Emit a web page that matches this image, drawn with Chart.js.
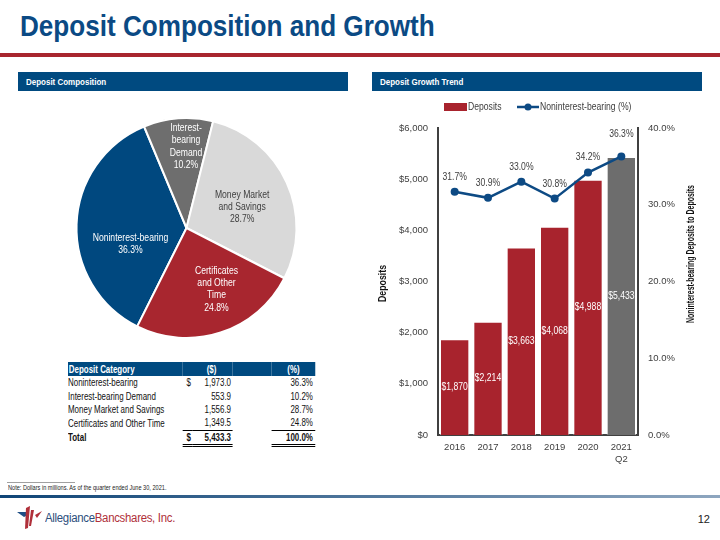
<!DOCTYPE html>
<html>
<head>
<meta charset="utf-8">
<script src="https://cdn.jsdelivr.net/npm/chart.js@4.4.1/dist/chart.umd.min.js"></script>
<style>
  body { margin: 0; width: 720px; height: 540px; position: relative; overflow: hidden; background: #fff;
         font-family: "Liberation Sans", Arial, sans-serif; }
  .abs { position: absolute; }
  .narrow { display: inline-block; transform: scaleX(0.84); transform-origin: left center; white-space: nowrap; }
  #title { left: 20px; top: 12px; font: bold 29px/29px "Liberation Sans", Arial, sans-serif; color: #0b4a84;
           transform: scaleX(0.9); transform-origin: left top; white-space: nowrap; }
  #rule { left: 0; top: 53px; width: 720px; height: 4px; background: #a8262e; }
  .hdr { top: 72px; width: 330px; height: 19px; background: #004a80; color: #fff; font-weight: bold;
         font-size: 9.5px; line-height: 19px; box-sizing: border-box; padding-left: 8px; }
  #depTable { left: 68px; top: 362px; border-collapse: collapse; font-size: 10.2px; color: #111; table-layout: fixed;
              transform: scaleX(0.78); transform-origin: left top; }
  #depTable td { padding: 0; height: 13.4px; line-height: 13px; white-space: nowrap; }
  #depTable tr.head td { background: #004a80; color: #fff; font-weight: bold; height: 14px; }
  #depTable tr.total td { font-weight: bold; }
  #noteLine { left: 7px; top: 482px; width: 68px; height: 1px; background: #a0a0a0; }
  #note { left: 8px; top: 484px; font-size: 7px; color: #222; white-space: nowrap; transform: scaleX(0.8); transform-origin: left top; }
  #footBar { left: 0; top: 495px; width: 720px; height: 3px; background: linear-gradient(to right, #0f4577, #8ea6bf); }
  #logoText { left: 45px; top: 511px; font: 12px "Liberation Sans", Arial, sans-serif; white-space: nowrap;
              transform: scaleX(0.95); transform-origin: left top; letter-spacing: -0.3px; }
  #pageNo { left: 690px; top: 513px; width: 20px; text-align: right; font-size: 11px; color: #222; }
</style>
</head>
<body>
<div id="title" class="abs">Deposit Composition and Growth</div>
<div id="rule" class="abs"></div>
<div class="hdr abs" style="left:18px"><span class="narrow">Deposit Composition</span></div>
<div class="hdr abs" style="left:372px"><span class="narrow">Deposit Growth Trend</span></div>

<canvas id="pieChart" class="abs" width="330" height="250" style="left:20px;top:100px"></canvas>
<table id="depTable" class="abs"></table>
<canvas id="barChart" class="abs" width="340" height="380" style="left:370px;top:92px"></canvas>

<div id="noteLine" class="abs"></div>
<div id="note" class="abs">Note: Dollars in millions. As of the quarter ended June 30, 2021.</div>
<div id="footBar" class="abs"></div>
<svg class="abs" style="left:17px;top:506px" width="26" height="24" viewBox="0 0 26 24">
  <polygon points="0,6 9,6 11,9 7,11" fill="#1f4e85"/>
  <polygon points="9,2 13,0 11,22 8,23" fill="#b0303a"/>
  <polygon points="14,4 17,4 14,20 12,20" fill="#b0303a"/>
  <polygon points="18,9 25,5 20,12" fill="#b0303a"/>
</svg>
<div id="logoText" class="abs"><span style="color:#2c4e7c">Allegiance</span><span style="color:#b0303a">Bancshares, Inc.</span></div>
<div id="pageNo" class="abs">12</div>

<script>
// данные: состав депозитов
const depCategories = ['Noninterest-bearing', 'Interest-bearing Demand', 'Money Market and Savings', 'Certificates and Other Time'];
const depAmounts = [1973.0, 553.9, 1556.9, 1349.5];
const depPercents = [36.3, 10.2, 28.7, 24.8];
const depTotal = 5433.3;
const pieLabelLines = [['Noninterest-bearing'], ['Interest-', 'bearing', 'Demand'], ['Money Market', 'and Savings'], ['Certificates', 'and Other', 'Time']];

// данные: рост депозитов
const years = ['2016', '2017', '2018', '2019', '2020', ['2021', 'Q2']];
const deposits = [1870, 2214, 3663, 4068, 4988, 5433];
const nonintPct = [31.7, 30.9, 33.0, 30.8, 34.2, 36.3];

const FONT = '"Liberation Sans", Arial, sans-serif';
const BLUE = '#0d4a84';
const RED = '#a8232d';
const GREY = '#6d6d6d';
const TXT = '#404040';

Chart.defaults.font.family = FONT;
Chart.defaults.color = TXT;

// узкий текст (в слайде Arial Narrow)
function narrowText(ctx, text, x, y, sx = 0.82) {
  ctx.save();
  ctx.translate(x, y);
  ctx.scale(sx, 1);
  ctx.fillText(text, 0, 0);
  ctx.restore();
}

// таблица
const table = document.getElementById('depTable');
const fmt1 = v => v.toLocaleString('en-US', { minimumFractionDigits: 1, maximumFractionDigits: 1 });
let html = '<colgroup><col style="width:147px"><col style="width:13px"><col style="width:51px"><col style="width:50px"><col style="width:56px"></colgroup>';
html += '<tr class="head"><td style="padding-left:1px">Deposit Category</td><td colspan="2" style="text-align:center;padding-left:10px">($)</td><td></td><td style="text-align:center">(%)</td></tr>';
depCategories.forEach((c, i) => {
  html += `<tr><td>${c}</td><td style="padding-left:5px">${i === 0 ? '$' : ''}</td><td style="text-align:right;padding-right:2px">${fmt1(depAmounts[i])}</td><td></td><td style="text-align:right;padding-right:3px">${depPercents[i].toFixed(1)}%</td></tr>`;
});
const tl = 'border-top:1px solid #000;border-bottom:3px double #000;';
html += `<tr class="total"><td>Total</td><td style="${tl}padding-left:5px">$</td><td style="${tl}text-align:right;padding-right:2px">${fmt1(depTotal)}</td><td></td><td style="${tl}text-align:right;padding-right:3px">100.0%</td></tr>`;
table.innerHTML = html;

// подписи внутри секторов
const pieLabelPlugin = {
  id: 'pieLabels',
  afterDatasetsDraw(chart) {
    const { ctx } = chart;
    const spots = [[0.53, -18], [0.74, 4], [0.54, 4], [0.62, -8]];
    const colors = ['#fff', '#fff', '#404040', '#fff'];
    chart.getDatasetMeta(0).data.forEach((arc, i) => {
      const [frac, shift] = spots[i];
      const mid = (arc.startAngle + arc.endAngle) / 2 + shift * Math.PI / 180;
      const x = arc.x + Math.cos(mid) * arc.outerRadius * frac;
      const y = arc.y + Math.sin(mid) * arc.outerRadius * frac;
      const lines = [...pieLabelLines[i], depPercents[i].toFixed(1) + '%'];
      const lh = 12.3;
      ctx.save();
      ctx.font = '10.5px ' + FONT;
      ctx.fillStyle = colors[i];
      ctx.textAlign = 'center';
      ctx.textBaseline = 'middle';
      lines.forEach((t, k) => narrowText(ctx, t, x, y + (k - (lines.length - 1) / 2) * lh));
      ctx.restore();
    });
  }
};

new Chart(document.getElementById('pieChart'), {
  type: 'pie',
  data: {
    labels: depCategories,
    datasets: [{
      data: depAmounts,
      backgroundColor: ['#00487f', '#6e6e6e', '#d9d9d9', '#a8262f'],
      borderColor: '#fff',
      borderWidth: 2
    }]
  },
  options: {
    responsive: false,
    animation: false,
    devicePixelRatio: 1,
    rotation: 206.6,
    layout: { padding: { left: 55.5, right: 52.5, top: 17, bottom: 11 } },
    plugins: { legend: { display: false }, tooltip: { enabled: false } }
  },
  plugins: [pieLabelPlugin]
});

// подписи, легенда и заголовки осей для графика роста
const barExtras = {
  id: 'barExtras',
  afterDatasetsDraw(chart) {
    const { ctx } = chart;
    ctx.save();
    ctx.font = '10.5px ' + FONT;
    ctx.textAlign = 'center';
    ctx.textBaseline = 'middle';
    // значения на столбцах
    ctx.fillStyle = '#fff';
    chart.getDatasetMeta(1).data.forEach((bar, i) => {
      narrowText(ctx, '$' + deposits[i].toLocaleString('en-US'), bar.x, (bar.y + bar.base) / 2);
    });
    // значения на линии
    ctx.fillStyle = TXT;
    const pts = chart.getDatasetMeta(0).data;
    pts.forEach((p, i) => {
      const lift = i === pts.length - 1 ? 22 : 15;
      narrowText(ctx, nonintPct[i].toFixed(1) + '%', p.x, p.y - lift);
    });
    ctx.restore();
  },
  afterDraw(chart) {
    const { ctx } = chart;
    ctx.save();
    // легенда
    ctx.fillStyle = RED;
    ctx.fillRect(74, 11, 23, 8);
    ctx.strokeStyle = BLUE;
    ctx.lineWidth = 2.5;
    ctx.beginPath(); ctx.moveTo(147, 15); ctx.lineTo(169, 15); ctx.stroke();
    ctx.fillStyle = BLUE;
    ctx.beginPath(); ctx.arc(158, 15, 3.5, 0, Math.PI * 2); ctx.fill();
    ctx.fillStyle = TXT;
    ctx.font = '10.5px ' + FONT;
    ctx.textBaseline = 'middle';
    ctx.textAlign = 'left';
    narrowText(ctx, 'Deposits', 98, 15);
    narrowText(ctx, 'Noninterest-bearing (%)', 170, 15);
    // заголовки осей
    const vTitle = (text, x, y, w) => {
      ctx.save();
      ctx.translate(x, y);
      ctx.rotate(-Math.PI / 2);
      ctx.font = 'bold 10px ' + FONT;
      const s = w / ctx.measureText(text).width;
      ctx.scale(s, 1);
      ctx.fillStyle = '#111';
      ctx.textAlign = 'center';
      ctx.textBaseline = 'middle';
      ctx.fillText(text, 0, 0);
      ctx.restore();
    };
    vTitle('Deposits', 13, 191.5, 37);
    vTitle('Noninterest-bearing Deposits to Deposits', 321, 162, 138);
    ctx.restore();
  }
};

new Chart(document.getElementById('barChart'), {
  data: {
    labels: years,
    datasets: [
      {
        type: 'line',
        label: 'Noninterest-bearing (%)',
        data: nonintPct,
        yAxisID: 'y1',
        borderColor: BLUE,
        backgroundColor: BLUE,
        borderWidth: 2.5,
        pointRadius: 4,
        pointBackgroundColor: BLUE,
        pointBorderWidth: 0,
        tension: 0,
        order: 0
      },
      {
        type: 'bar',
        label: 'Deposits',
        data: deposits,
        yAxisID: 'y',
        backgroundColor: deposits.map((_, i) => i === deposits.length - 1 ? GREY : RED),
        borderColor: 'rgba(255,255,255,0.55)',
        borderWidth: 1,
        barPercentage: 0.88,
        categoryPercentage: 1,
        order: 1
      }
    ]
  },
  options: {
    responsive: false,
    animation: false,
    devicePixelRatio: 1,
    layout: { padding: { top: 36, left: 0, right: 0, bottom: 0 } },
    plugins: { legend: { display: false }, tooltip: { enabled: false } },
    scales: {
      x: {
        grid: { display: false, drawTicks: false },
        border: { display: true, color: '#404040', width: 2 },
        ticks: { padding: 7, font: { size: 9.5 }, color: TXT },
        afterFit: s => { s.height = 37; }
      },
      y: {
        position: 'left',
        min: 0, max: 6000,
        grid: { display: false, drawTicks: false },
        border: { display: true, color: '#404040', width: 2 },
        ticks: { stepSize: 1000, padding: 10, font: { size: 9.5 }, color: TXT,
                 callback: v => '$' + v.toLocaleString('en-US') },
        afterFit: s => { s.width = 68; }
      },
      y1: {
        position: 'right',
        min: 0, max: 40,
        grid: { display: false, drawTicks: false },
        border: { display: true, color: '#404040', width: 2 },
        ticks: { stepSize: 10, padding: 10, font: { size: 9.5 }, color: TXT,
                 callback: v => v.toFixed(1) + '%' },
        afterFit: s => { s.width = 72; }
      }
    }
  },
  plugins: [barExtras]
});
</script>
</body>
</html>
